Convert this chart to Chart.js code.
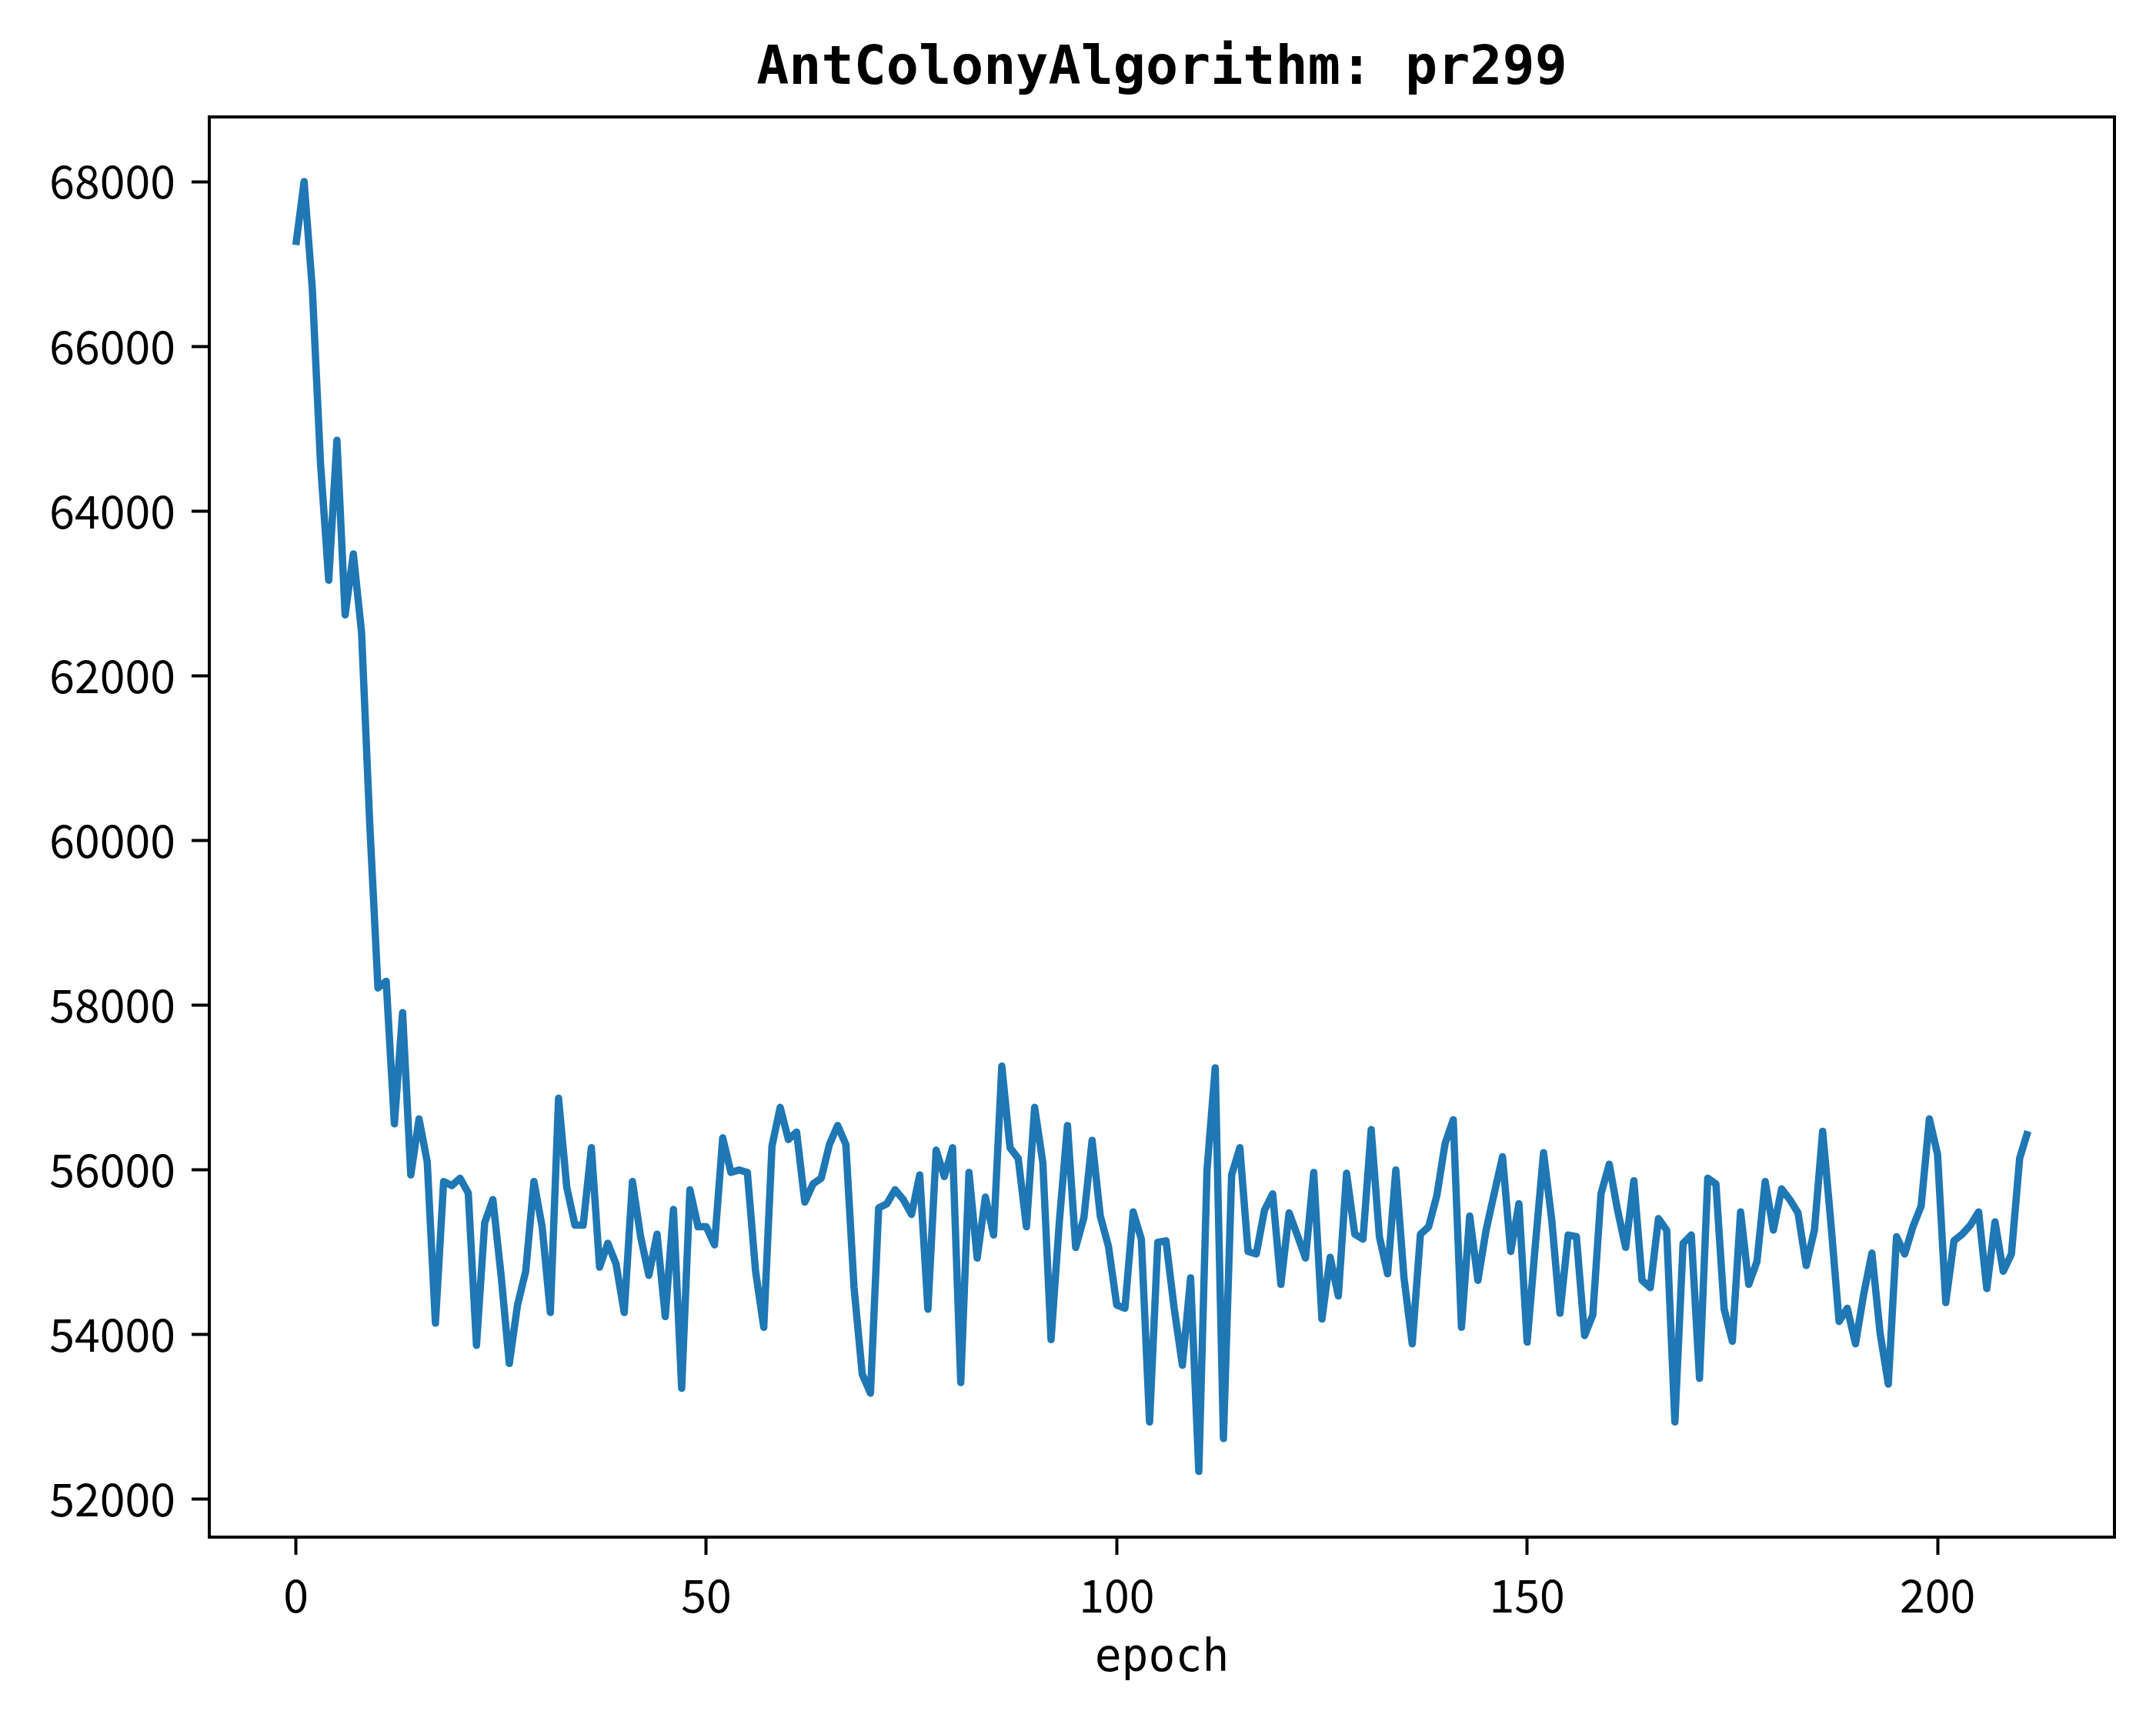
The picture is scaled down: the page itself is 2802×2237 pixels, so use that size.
<!DOCTYPE html>
<html>
<head>
<meta charset="utf-8">
<script src="https://cdn.jsdelivr.net/npm/chart.js@4.4.0/dist/chart.umd.min.js"></script>
<style>
  html, body { margin: 0; padding: 0; background: #fff; }
  canvas { display: block; }
</style>
</head>
<body>
<canvas id="grafico" width="2802" height="2237"></canvas>
<script>
// valores (um por epoch, comecando em 0)
var custos = [
  67230, 68000, 66700, 64580, 63160, 64860, 62740, 63480, 62530, 60200,
  58210, 58290, 56560, 57910, 55940, 56620, 56100, 54140, 55860, 55810,
  55900, 55720, 53870, 55360, 55640, 54720, 53650, 54360, 54770, 55860,
  55310, 54270, 56870, 55790, 55330, 55330, 56270, 54820, 55110, 54860,
  54270, 55860, 55190, 54720, 55220, 54220, 55520, 53350, 55760, 55310,
  55310, 55090, 56390, 55970, 56000, 55970, 54770, 54090, 56290, 56760,
  56370, 56460, 55610, 55830, 55900, 56310, 56540, 56310, 54570, 53520,
  53290, 55540, 55590, 55760, 55640, 55460, 55940, 54310, 56240, 55920,
  56270, 53420, 55970, 54930, 55670, 55210, 57260, 56270, 56140, 55310,
  56760, 56090, 53940, 55360, 56540, 55060, 55420, 56360, 55440, 55070,
  54360, 54320, 55490, 55160, 52940, 55120, 55140, 54320, 53630, 54690,
  52340, 56000, 57240, 52740, 55940, 56270, 55010, 54980, 55510, 55710,
  54610, 55480, 55210, 54930, 55970, 54190, 54940, 54470, 55960, 55220,
  55160, 56490, 55190, 54740, 56000, 54690, 53890, 55220, 55310, 55690,
  56320, 56610, 54090, 55440, 54660, 55270, 55720, 56160, 55010, 55590,
  53910, 55090, 56210, 55390, 54260, 55210, 55190, 53990, 54240, 55710,
  56070, 55520, 55060, 55870, 54660, 54570, 55410, 55270, 52940, 55110,
  55210, 53470, 55900, 55830, 54310, 53920, 55490, 54610, 54890, 55860,
  55270, 55770, 55640, 55480, 54840, 55270, 56470, 55360, 54160, 54320,
  53890, 54490, 54990, 54020, 53400, 55190, 54980, 55310, 55560, 56620,
  56190, 54390, 55140, 55220, 55330, 55490, 54560, 55370, 54770, 54980,
  56140, 56470
];
var ticksX = [0, 50, 100, 150, 200];
var ticksY = [52000, 54000, 56000, 58000, 60000, 62000, 64000, 66000, 68000];
var titulo = 'AntColonyAlgorithm: pr299';
var rotuloX = 'epoch';

var pontos = [];
for (var i = 0; i < custos.length; i++) {
  pontos.push({ x: i, y: custos[i] });
}

// moldura preta em volta da area do grafico (como no matplotlib)
var moldura = {
  id: 'moldura',
  afterDraw: function (chart) {
    var a = chart.chartArea;
    var ctx = chart.ctx;
    ctx.save();
    ctx.strokeStyle = '#000';
    ctx.lineWidth = 4;
    ctx.strokeRect(a.left, a.top, a.right - a.left, a.bottom - a.top);
    ctx.restore();
  }
};

var fonteTicks = { family: '"Noto Sans CJK SC", "DejaVu Sans"', size: 59 };

const config = {
  type: 'line',
  data: {
    datasets: [{
      label: 'custo',
      data: pontos,
      borderColor: '#1f77b4',
      borderWidth: 9.5,
      pointRadius: 0,
      fill: false,
      tension: 0,
      borderJoinStyle: 'round',
      borderCapStyle: 'butt'
    }]
  },
  options: {
    responsive: false,
    animation: false,
    devicePixelRatio: 1,
    layout: { padding: { left: 0, right: 54, top: 0, bottom: 0 } },
    plugins: {
      legend: { display: false },
      tooltip: { enabled: false },
      title: {
        display: true,
        fullSize: false,
        text: titulo,
        color: '#000',
        font: { family: '"DejaVu Sans Mono"', size: 70, weight: 'bold', lineHeight: 1.2 },
        padding: { top: 49, bottom: 19 }
      }
    },
    scales: {
      x: {
        type: 'linear',
        min: -10.55,
        max: 221.55,
        afterFit: function (s) { s.height = 239; },
        afterBuildTicks: function (s) { s.ticks = ticksX.map(function (v) { return { value: v }; }); },
        grid: { display: true, drawOnChartArea: false, drawTicks: true, tickLength: 23, tickWidth: 4, tickColor: '#000' },
        border: { display: false },
        ticks: { color: '#000', font: fonteTicks, padding: 17, maxRotation: 0, callback: function (v) { return String(v); } },
        title: {
          display: true,
          text: rotuloX,
          color: '#000',
          font: { family: '"DejaVu Sans Mono"', size: 58, lineHeight: 1.2 },
          padding: { top: 0, bottom: 45 }
        }
      },
      y: {
        type: 'linear',
        min: 51542,
        max: 68785,
        afterFit: function (s) { s.width = 272; },
        afterBuildTicks: function (s) { s.ticks = ticksY.map(function (v) { return { value: v }; }); },
        grid: { display: true, drawOnChartArea: false, drawTicks: true, tickLength: 23, tickWidth: 4, tickColor: '#000' },
        border: { display: false },
        ticks: { color: '#000', font: fonteTicks, padding: 21, callback: function (v) { return String(v); } }
      }
    }
  },
  plugins: [moldura]
};

let grafico = new Chart(document.getElementById('grafico'), config);
</script>
</body>
</html>
